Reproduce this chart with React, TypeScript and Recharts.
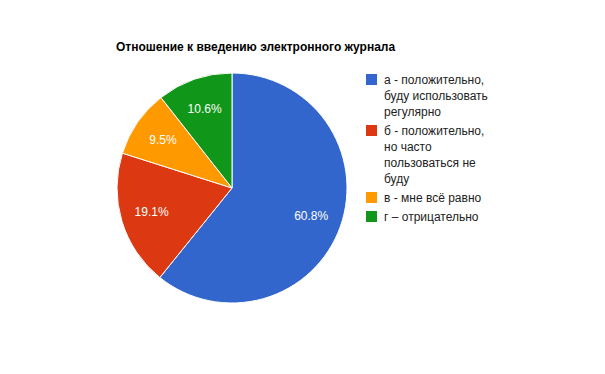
import { PieChart, Pie, Cell } from "recharts";

const categories = [
  "а - положительно, буду использовать регулярно",
  "б - положительно, но часто пользоваться не буду",
  "в - мне всё равно",
  "г – отрицательно",
];
const shares = [60.8, 19.1, 9.5, 10.6];
const colors = ["#3366cc", "#dc3912", "#ff9900", "#109618"];

const data = categories.map((name, i) => ({ name, value: shares[i], color: colors[i] }));

const RAD = Math.PI / 180;
const FONT = "Arial, 'Liberation Sans', sans-serif";

const renderLabel = (props: any) => {
  const { cx, cy, midAngle, outerRadius, value } = props;
  const r = outerRadius * 0.73;
  const x = cx + r * Math.cos(-midAngle * RAD);
  const y = cy + r * Math.sin(-midAngle * RAD);
  return (
    <text
      x={x}
      y={y}
      fill="#ffffff"
      fontSize={12}
      fontFamily={FONT}
      textAnchor="middle"
      dominantBaseline="central"
    >
      {value.toFixed(1)}%
    </text>
  );
};

function LegendBox() {
  return (
    <div
      style={{
        position: "absolute",
        left: 366,
        top: 72,
        fontFamily: FONT,
        fontSize: 12,
        color: "#222222",
      }}
    >
      {data.map((d) => (
        <div key={d.name} style={{ display: "flex", alignItems: "flex-start", marginBottom: 3 }}>
          <div
            style={{
              width: 11,
              height: 11,
              background: d.color,
              marginTop: 2,
              marginRight: 7,
              flexShrink: 0,
            }}
          />
          <div style={{ width: 109, lineHeight: "16px" }}>{d.name}</div>
        </div>
      ))}
    </div>
  );
}

export default function App() {
  return (
    <div style={{ position: "absolute", left: 0, top: 0, width: 605, height: 374, background: "#fff" }}>
      <PieChart width={605} height={374} margin={{ top: 0, right: 0, bottom: 0, left: 0 }}>
        <Pie
          data={data}
          dataKey="value"
          nameKey="name"
          cx={232}
          cy={188}
          outerRadius={115}
          startAngle={90}
          endAngle={-270}
          stroke="#ffffff"
          strokeWidth={1}
          label={renderLabel}
          labelLine={false}
          isAnimationActive={false}
        >
          {data.map((d) => (
            <Cell key={d.name} fill={d.color} />
          ))}
        </Pie>
      </PieChart>
      <div
        style={{
          position: "absolute",
          left: 116,
          top: 40,
          fontFamily: FONT,
          fontSize: 12,
          fontWeight: "bold",
          lineHeight: "14px",
          color: "#000",
        }}
      >
        Отношение к введению электронного журнала
      </div>
      <LegendBox />
    </div>
  );
}
